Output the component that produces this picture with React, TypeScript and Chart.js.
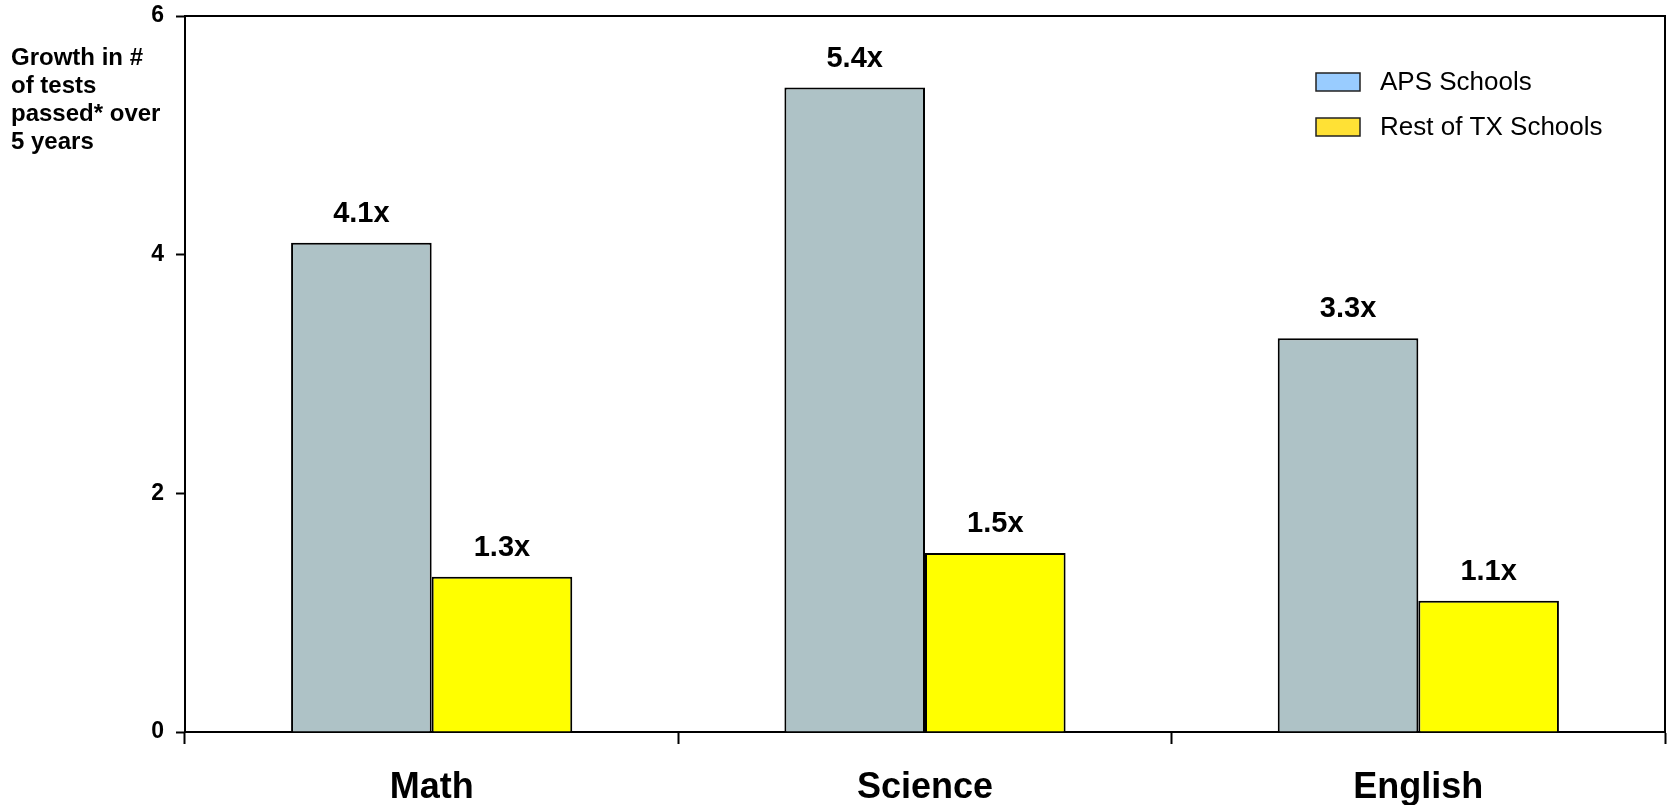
import React, { useEffect, useRef } from "react";
import { Chart, registerables } from "chart.js";

Chart.register(...registerables);

const FONT = '"Liberation Sans", Arial, Helvetica, sans-serif';

const categories = ["Math", "Science", "English"];
const seriesNames = ["APS Schools", "Rest of TX Schools"];
const apsValues = [4.1, 5.4, 3.3];
const restValues = [1.3, 1.5, 1.1];
const barColors = ["#AEC2C6", "#FFFF00"];
const legendSwatchColors = ["#99CCFF", "#FFE135"];
const yMin = 0;
const yMax = 6;
const yStep = 2;
const yTitleLines = ["Growth in #", "of tests", "passed* over", "5 years"];

const overlayPlugin = {
  id: "overlay",
  afterDatasetsDraw(chart: any) {
    const ctx = chart.ctx as CanvasRenderingContext2D;
    const a = chart.chartArea;
    ctx.save();
    // top and right frame
    ctx.strokeStyle = "#000";
    ctx.lineWidth = 2;
    ctx.beginPath();
    ctx.moveTo(a.left, a.top);
    ctx.lineTo(a.right, a.top);
    ctx.lineTo(a.right, a.bottom);
    ctx.stroke();

    // value labels
    ctx.font = `bold 29px ${FONT}`;
    ctx.fillStyle = "#000";
    ctx.textAlign = "center";
    ctx.textBaseline = "middle";
    chart.data.datasets.forEach((ds: any, i: number) => {
      const meta = chart.getDatasetMeta(i);
      meta.data.forEach((bar: any, j: number) => {
        ctx.fillText(`${Number(ds.data[j]).toFixed(1)}x`, bar.x, bar.y - 29);
      });
    });

    // legend
    ctx.font = `26px ${FONT}`;
    ctx.textAlign = "left";
    chart.data.datasets.forEach((ds: any, i: number) => {
      const yc = 82 + i * 45;
      ctx.fillStyle = legendSwatchColors[i];
      ctx.fillRect(1316, yc - 9, 44, 18);
      ctx.strokeStyle = "#222";
      ctx.lineWidth = 1.5;
      ctx.strokeRect(1316, yc - 9, 44, 18);
      ctx.fillStyle = "#000";
      ctx.fillText(ds.label, 1380, yc + 1);
    });

    // y-axis title
    ctx.font = `bold 24px ${FONT}`;
    ctx.textAlign = "left";
    ctx.fillStyle = "#000";
    yTitleLines.forEach((line, i) => {
      ctx.fillText(line, 11, 58 + i * 28);
    });
    ctx.restore();
  },
};

export default function App() {
  const canvasRef = useRef<HTMLCanvasElement | null>(null);

  useEffect(() => {
    document.body.style.margin = "0";
    const canvas = canvasRef.current;
    if (!canvas) return;
    const chart = new Chart(canvas, {
      type: "bar",
      data: {
        labels: categories,
        datasets: [
          {
            label: seriesNames[0],
            data: apsValues,
            backgroundColor: barColors[0],
            borderColor: "#000",
            borderWidth: 2,
          },
          {
            label: seriesNames[1],
            data: restValues,
            backgroundColor: barColors[1],
            borderColor: "#000",
            borderWidth: 2,
          },
        ],
      },
      options: {
        animation: false,
        responsive: true,
        maintainAspectRatio: false,
        layout: { padding: { top: 16, right: 2, left: 0, bottom: 0 } },
        datasets: {
          bar: { categoryPercentage: 0.57, barPercentage: 1.0 },
        },
        plugins: {
          legend: { display: false },
          tooltip: { enabled: false },
          title: { display: false },
        },
        scales: {
          x: {
            offset: true,
            grid: {
              offset: true,
              drawOnChartArea: false,
              drawTicks: true,
              tickLength: 12,
              tickWidth: 2,
              tickColor: "#000",
              color: "#000",
            },
            border: { display: true, color: "#000", width: 2 },
            ticks: {
              color: "#000",
              padding: 22,
              font: { family: FONT, size: 36, weight: "bold" },
            },
            afterFit(scale: any) {
              scale.height = 73;
              scale.paddingLeft = 0;
              scale.paddingRight = 0;
            },
          },
          y: {
            min: yMin,
            max: yMax,
            grid: {
              drawOnChartArea: false,
              drawTicks: true,
              tickLength: 9,
              tickWidth: 2,
              tickColor: "#000",
              color: "#000",
            },
            border: { display: true, color: "#000", width: 2 },
            ticks: {
              stepSize: yStep,
              color: "#000",
              padding: 12,
              font: { family: FONT, size: 23, weight: "bold" },
            },
            afterFit(scale: any) {
              scale.width = 185;
              scale.paddingTop = 0;
              scale.paddingBottom = 0;
            },
          },
        },
      },
      plugins: [overlayPlugin],
    });
    return () => chart.destroy();
  }, []);

  return (
    <div style={{ position: "relative", width: "1667px", height: "805px" }}>
      <canvas ref={canvasRef} />
    </div>
  );
}
